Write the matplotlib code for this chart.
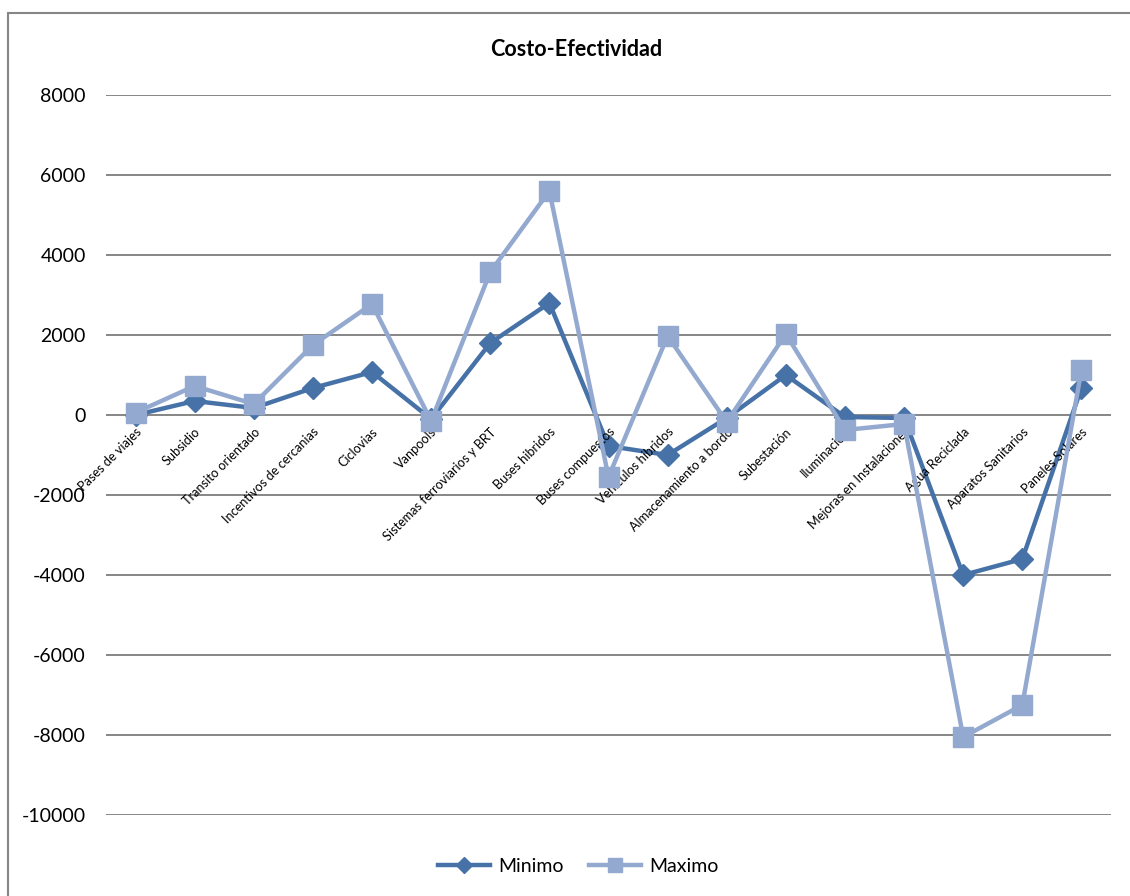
import matplotlib
matplotlib.use("Agg")
import matplotlib.pyplot as plt
from matplotlib.patches import Rectangle
import matplotlib.transforms as mtransforms

plt.rcParams['font.family'] = ['Lato', 'DejaVu Sans']

categories = [
    "Pases de viajes", "Subsidio", "Transito orientado", "Incentivos de cercanias",
    "Ciclovias", "Vanpools", "Sistemas ferroviarios y BRT", "Buses hibridos",
    "Buses compuestos", "Vehiculos hibridos", "Almacenamiento a bordo",
    "Subestación", "Iluminacion", "Mejoras en Instalaciones", "Agua Reciclada",
    "Aparatos Sanitarios", "Paneles Solares",
]
minimo = [0, 350, 175, 675, 1075, -100, 1800, 2800, -775, -1000, -75,
          1000, -50, -75, -4000, -3600, 675]
maximo = [60, 725, 275, 1750, 2775, -150, 3575, 5600, -1550, 1975, -175,
          2025, -375, -225, -8050, -7250, 1125]
yticks = [8000, 6000, 4000, 2000, 0, -2000, -4000, -6000, -8000, -10000]

n = len(categories)
x = list(range(n))

W, H = 1130, 896
fig = plt.figure(figsize=(W / 100, H / 100), dpi=100)
fig.patch.set_facecolor("white")

left, right, top, bottom = 106, 1111, 95, 815
ax = fig.add_axes([left / W, 1 - bottom / H, (right - left) / W, (bottom - top) / H])

dark = "#4672A8"
light = "#93A9CF"
grid = "#868686"

ax.plot(x, minimo, color=dark, lw=3.2, marker="D", ms=11.5,
        markeredgecolor=dark, label="Minimo", zorder=3, solid_joinstyle="round")
ax.plot(x, maximo, color=light, lw=3.2, marker="s", ms=15,
        markeredgecolor=light, label="Maximo", zorder=4, solid_joinstyle="round")

ax.set_xlim(-0.5, n - 0.5)
ax.set_ylim(-10000, 8000)
ax.set_yticks(yticks)
ax.set_yticklabels([str(v) for v in yticks], fontsize=14)
ax.tick_params(axis="y", length=0, pad=14.5)
ax.set_xticks([])
ax.yaxis.grid(True, color=grid, lw=1.4)
ax.set_axisbelow(True)
for s in ax.spines.values():
    s.set_visible(False)

# Category labels hang from the zero line, rotated 45 degrees
trans = ax.transData + mtransforms.ScaledTranslation(4 / 100, -15 / 100, fig.dpi_scale_trans)
for i, lab in enumerate(categories):
    ax.text(i, 0, lab, transform=trans, rotation=45, rotation_mode="anchor",
            ha="right", va="center", fontsize=9.2, color="black")

fig.text(576 / W, 1 - 50 / H, "Costo-Efectividad", ha="center", va="center",
         fontsize=15.5, fontweight="bold")

leg = fig.legend(loc="center", bbox_to_anchor=(578 / W, 1 - 866 / H), ncol=2,
                 frameon=False, fontsize=14, handlelength=2.7, handletextpad=0.4,
                 columnspacing=1.3, markerscale=0.7)

# Chart area outline
fig.patches.append(Rectangle((8 / W, -0.1), 1.2, 1 - 13 / H + 0.1,
                             transform=fig.transFigure, fill=False,
                             edgecolor=grid, lw=1.5))

fig.savefig("out.png", dpi=100)
